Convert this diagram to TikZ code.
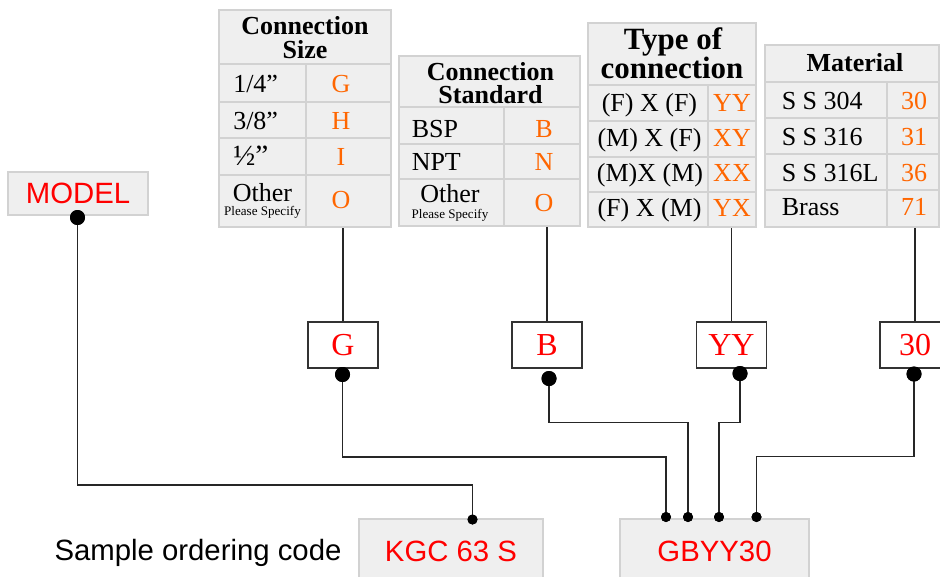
\documentclass[tikz,border=0pt]{standalone}
\usepackage{fontspec}
\setmainfont{Liberation Serif}
\newfontfamily\sansf{Liberation Sans}
\usetikzlibrary{fit}
\definecolor{tfill}{HTML}{EFEFEF}
\definecolor{tline}{HTML}{D2D2D2}
\definecolor{codeor}{HTML}{FF6600}
\definecolor{codered}{HTML}{FF0000}
\begin{document}
\begin{tikzpicture}[x=0.75pt,y=-0.75pt,
  tbl/.style={draw=tline, line width=2.2pt, fill=tfill, rectangle, inner sep=0pt},
  grid/.style={draw=tline, line width=2.2pt},
  hd/.style={font=\bfseries\fontsize{19.5}{20}\selectfont, anchor=base, inner sep=0pt},
  hdbig/.style={font=\bfseries\fontsize{23.2}{24}\selectfont, anchor=base, inner sep=0pt},
  tx/.style={font=\fontsize{19.5}{20}\selectfont, inner sep=0pt},
  txw/.style={tx, anchor=base west},
  txc/.style={tx, anchor=base},
  cd/.style={tx, text=codeor, anchor=base},
  small/.style={font=\fontsize{9.8}{10}\selectfont, anchor=base, inner sep=0pt},
  codebox/.style={draw=black!80, line width=0.8pt, fill=white, minimum width=52.5pt, minimum height=34.5pt, inner sep=0pt, text=codered, font=\fontsize{24}{24}\selectfont},
  graybox/.style={draw=tline, line width=1.6pt, fill=tfill, inner sep=0pt, text=codered, font=\sansf\fontsize{22}{22}\selectfont},
  dot/.style={circle, fill=black, inner sep=0pt, minimum size=11.25pt},
  sdot/.style={circle, fill=black, inner sep=0pt, minimum size=7.5pt},
  conn/.style={draw=black!85, line width=0.8pt}
]
\clip (0,0) rectangle (940,576);

% ---------- Table 1: Connection Size ----------
\node[tbl, fit={(219,10) (391,227)}] (t1) {};
\draw[grid] (219,64) -- (391,64) (219,102) -- (391,102) (219,138) -- (391,138) (219,175) -- (391,175);
\draw[grid] (306,64) -- (306,227);
\node[hd] (t1h1) at (305,34.5) {Connection};
\node[hd] (t1h2) at (305,58.5) {Size};
\node[txw] (t1a) at (233,92) {1/4”};
\node[txw] (t1b) at (233,129) {3/8”};
\node[txw, font=\fontsize{22}{22}\selectfont] (t1c) at (233,165) {½”};
\node[txc] (t1d) at (262.5,201.5) {Other};
\node[small] (t1e) at (262.5,215.5) {Please Specify};
\node[cd] (t1ca) at (341,92) {G};
\node[cd] (t1cb) at (341,129) {H};
\node[cd] (t1cc) at (341,165) {I};
\node[cd] (t1cd) at (341,208.5) {O};

% ---------- Table 2: Connection Standard ----------
\node[tbl, fit={(399,56) (580,226)}] (t2) {};
\draw[grid] (399,107) -- (580,107) (399,144) -- (580,144) (399,179) -- (580,179);
\draw[grid] (504,107) -- (504,226);
\node[hd] (t2h1) at (490.5,80) {Connection};
\node[hd] (t2h2) at (490.5,103.5) {Standard};
\node[txw] (t2a) at (411.5,137.3) {BSP};
\node[txw] (t2b) at (411.5,170) {NPT};
\node[txc] (t2c) at (450,202.7) {Other};
\node[small] (t2d) at (450,218) {Please Specify};
\node[cd] (t2ca) at (544,137.3) {B};
\node[cd] (t2cb) at (544,170) {N};
\node[cd] (t2cc) at (544,211.7) {O};

% ---------- Table 3: Type of connection ----------
\node[tbl, fit={(588,23) (756,227)}] (t3) {};
\draw[grid] (588,85) -- (756,85) (588,121) -- (756,121) (588,157) -- (756,157) (588,192) -- (756,192);
\draw[grid] (708,85) -- (708,227);
\node[hdbig] (t3h1) at (673,49.5) {Type of};
\node[hdbig] (t3h2) at (672,78) {connection};
\node[txc] (t3a) at (649.5,111.7) {(F) X (F)};
\node[txc] (t3b) at (649.5,146.7) {(M) X (F)};
\node[txc] (t3c) at (650,181.7) {(M)X (M)};
\node[txc] (t3d) at (649.5,216.7) {(F) X (M)};
\node[cd] (t3ca) at (732,111.7) {YY};
\node[cd] (t3cb) at (732,146.7) {XY};
\node[cd] (t3cc) at (732,181.7) {XX};
\node[cd] (t3cd) at (732,216.7) {YX};

% ---------- Table 4: Material ----------
\node[tbl, fit={(765,45) (939,227)}] (t4) {};
\draw[grid] (765,82) -- (939,82) (765,118) -- (939,118) (765,154) -- (939,154) (765,190) -- (939,190);
\draw[grid] (887,82) -- (887,227);
\node[hd] (t4h) at (855,71.7) {Material};
\node[txw] (t4a) at (781.5,109) {S S 304};
\node[txw] (t4b) at (781.5,145) {S S 316};
\node[txw] (t4c) at (781.5,181.7) {S S 316L};
\node[txw] (t4d) at (781.5,215) {Brass};
\node[cd] (t4ca) at (914,109) {30};
\node[cd] (t4cb) at (914,145) {31};
\node[cd] (t4cc) at (914,181.7) {36};
\node[cd] (t4cd) at (914,215) {71};

% ---------- Code boxes ----------
\node[codebox] (gb) at (343,345) {G};
\node[codebox] (bb) at (547,345) {B};
\node[codebox] (yb) at (731.5,345) {YY};
\node[codebox] (mb) at (915,345) {30};

% ---------- Model and sample boxes ----------
\node[graybox, minimum width=105pt, minimum height=32.25pt] (model) at (78,193.5) {MODEL};
\node[graybox, minimum width=138pt, minimum height=48pt] (kgc) at (451,551) {KGC 63 S};
\node[graybox, minimum width=141.75pt, minimum height=48pt] (code) at (714.5,551) {GBYY30};
\node[font=\sansf\fontsize{22}{22}\selectfont, anchor=base, inner sep=0pt] (sample) at (198,560) {Sample ordering code};

% ---------- Dots ----------
\node[dot] (modeld) at (77.5,217.5) {};
\node[dot] (gd) at (342.5,374.5) {};
\node[dot] (bd) at (549,378.5) {};
\node[dot] (yd) at (740,373.5) {};
\node[dot] (md) at (914,374) {};
\node[sdot] (kd) at (472.5,519.5) {};
\node[sdot] (c1) at (666,517) {};
\node[sdot] (c2) at (688,517) {};
\node[sdot] (c3) at (719,517) {};
\node[sdot] (c4) at (756.5,517) {};

% ---------- Bend points ----------
\coordinate (mk) at (472.5,485);
\coordinate (gk) at (666,457);
\coordinate (bk) at (688,422.5);
\coordinate (yk) at (719,422.5);
\coordinate (tk) at (756.5,456.5);

% ---------- Connectors ----------
\draw[conn] (gb.north) -- (gb.north |- t1.south);
\draw[conn] (bb.north) -- (bb.north |- t2.south);
\draw[conn] (yb.north) -- (yb.north |- t3.south);
\draw[conn] (mb.north) -- (mb.north |- t4.south);
\draw[conn] (modeld.center) |- (mk) -- (kd.center);
\draw[conn] (gd.center) |- (gk) -- (c1.center);
\draw[conn] (bd.center) |- (bk) -- (c2.center);
\draw[conn] (yd.center) |- (yk) -- (c3.center);
\draw[conn] (md.center) |- (tk) -- (c4.center);
% dots on top of the connectors
\fill (modeld) circle (7.5);
\fill (gd) circle (7.5);
\fill (bd) circle (7.5);
\fill (yd) circle (7.5);
\fill (md) circle (7.5);
\fill (kd) circle (5);
\fill (c1) circle (5);
\fill (c2) circle (5);
\fill (c3) circle (5);
\fill (c4) circle (5);
\end{tikzpicture}
\end{document}
